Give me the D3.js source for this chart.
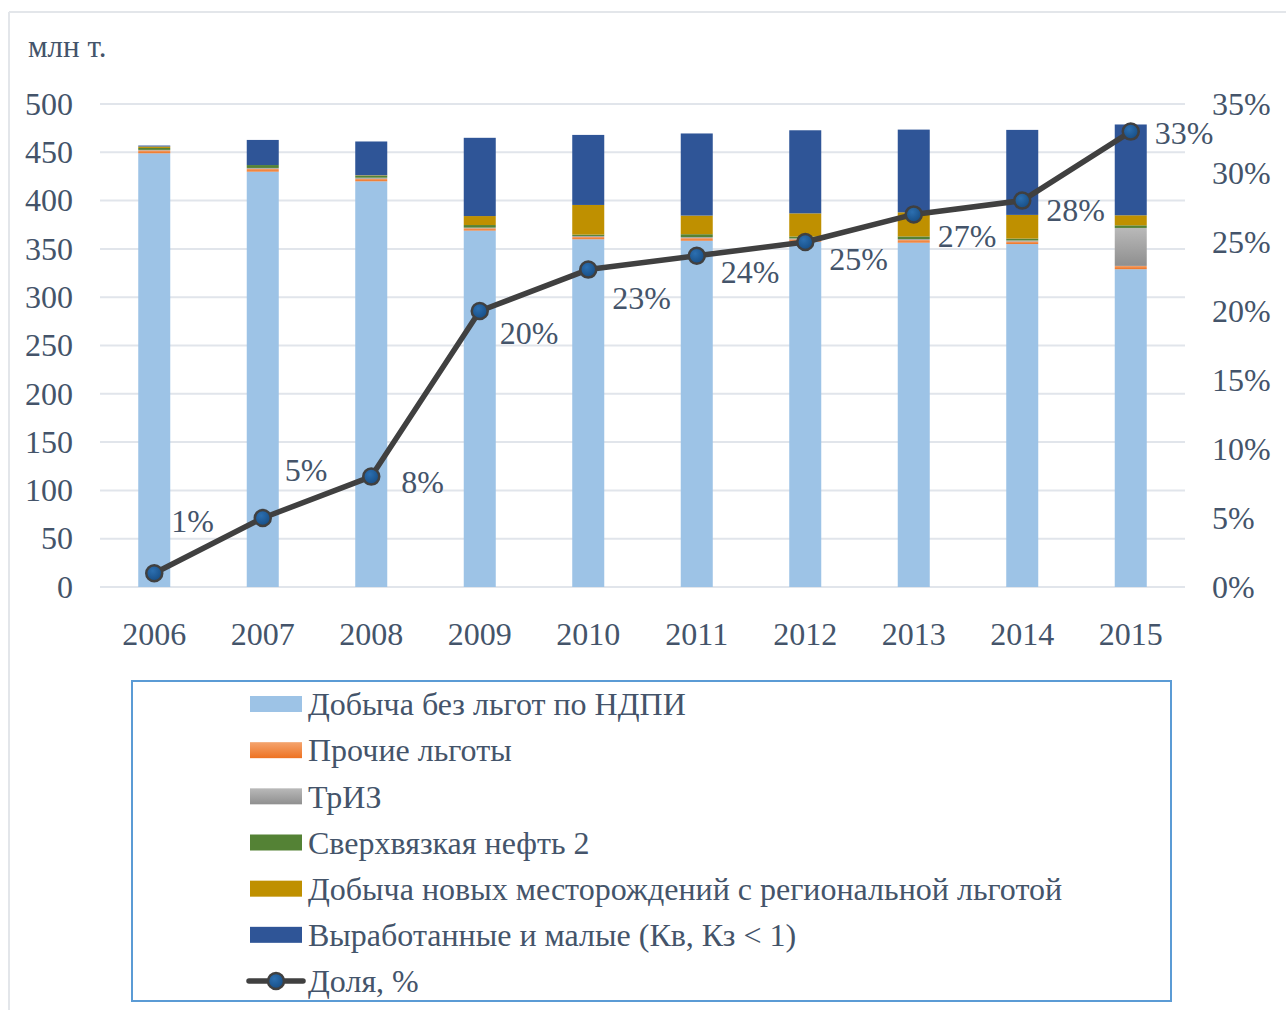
<!DOCTYPE html>
<html>
<head>
<meta charset="utf-8">
<script src="https://cdn.jsdelivr.net/npm/d3@7"></script>
<style>
  body { margin: 0; background: #fff; }
  svg text { font-family: "Liberation Serif", "DejaVu Serif", serif !important; fill: #44546A; }
</style>
</head>
<body>
<div id="chart"></div>
<script>
var years = ["2006", "2007", "2008", "2009", "2010", "2011", "2012", "2013", "2014", "2015"];
var baseOutput = [449, 430, 420, 369, 360, 358.5, 357.5, 356.5, 355, 329];
var otherRelief = [3, 3, 2.7, 2.4, 2.4, 2.7, 2.5, 2.7, 2.7, 3.4];
var triz = [0.5, 0.8, 1, 0.6, 1, 1, 0.8, 1, 1, 39.3];
var heavyOil = [2, 3, 2, 2.7, 1.4, 3, 2, 2.7, 2, 2.7];
var newFields = [1.5, 0, 0.5, 9.3, 30.7, 19.3, 24, 25, 24.5, 10.4];
var depleted = [1, 26, 35, 81, 72.5, 85, 86, 85.6, 88, 94];
var share = [1, 5, 8, 20, 23, 24, 25, 27, 28, 33];

var leftTicks = [0, 50, 100, 150, 200, 250, 300, 350, 400, 450, 500];
var rightTicks = [0, 5, 10, 15, 20, 25, 30, 35];

var seriesNames = [
  "Добыча без льгот по НДПИ",
  "Прочие льготы",
  "ТрИЗ",
  "Сверхвязкая нефть 2",
  "Добыча новых месторождений с региональной льготой",
  "Выработанные и малые (Кв, Кз < 1)"
];
var lineName = "Доля, %";

// label nudges for the share labels (first two sit above the line)
var labelDx = [17, 22, 30, 20, 24, 24, 24, 24, 24, 24];
var labelDy = [-52, -48, 5, 22, 28, 16, 17, 21, 9, 1];

var serif = "'Liberation Serif', 'DejaVu Serif', serif";
var width = 1286, height = 1010;
var svg = d3.select("#chart").append("svg")
  .attr("width", width)
  .attr("height", height)
  .attr("font-family", serif);

var defs = svg.append("defs");
function vGrad(id, top, bottom) {
  var g = defs.append("linearGradient").attr("id", id)
    .attr("x1", 0).attr("y1", 0).attr("x2", 0).attr("y2", 1);
  g.append("stop").attr("offset", "0%").attr("stop-color", top);
  g.append("stop").attr("offset", "100%").attr("stop-color", bottom);
}
vGrad("gOrange", "#F4A46E", "#EE7222");
vGrad("gGray", "#B9B9B9", "#8F8F8F");
var rg = defs.append("radialGradient").attr("id", "gDot")
  .attr("cx", "40%").attr("cy", "35%").attr("r", "65%");
rg.append("stop").attr("offset", "0%").attr("stop-color", "#2C6FB0");
rg.append("stop").attr("offset", "100%").attr("stop-color", "#174E86");

var fills = ["#9DC3E6", "url(#gOrange)", "url(#gGray)", "#548235", "#BF9000", "#2F5597"];

// outer frame (partly visible)
svg.append("line").attr("x1", 9).attr("y1", 12).attr("x2", width).attr("y2", 12)
  .attr("stroke", "#E3E6EA").attr("stroke-width", 2);
svg.append("line").attr("x1", 9).attr("y1", 12).attr("x2", 9).attr("y2", height)
  .attr("stroke", "#E3E6EA").attr("stroke-width", 2);

var x = d3.scaleBand().domain(years).range([100, 1185]).paddingInner(0.705).paddingOuter(0.3525);
var y = d3.scaleLinear().domain([0, 500]).range([587, 104]);
var y2 = d3.scaleLinear().domain([0, 35]).range([587, 104]);

// gridlines
svg.append("g").selectAll("line").data(leftTicks).join("line")
  .attr("x1", 100).attr("x2", 1185)
  .attr("y1", function (d) { return y(d); })
  .attr("y2", function (d) { return y(d); })
  .attr("stroke", "#E1E5EB").attr("stroke-width", 2);

function styleAxis(g) {
  g.attr("font-family", serif).attr("font-size", 32);
  g.select(".domain").remove();
  g.selectAll("text").attr("fill", "#44546A").attr("font-family", serif);
}

// left axis labels
var leftAxis = d3.axisLeft(y).tickValues(leftTicks).tickSize(0).tickPadding(0);
svg.append("g").attr("transform", "translate(73,0)").call(leftAxis).call(styleAxis);

// right axis labels
var rightAxis = d3.axisRight(y2).tickValues(rightTicks).tickSize(0).tickPadding(0)
  .tickFormat(function (d) { return d + "%"; });
svg.append("g").attr("transform", "translate(1212,0)").call(rightAxis).call(styleAxis);

// bottom axis labels
var bottomAxis = d3.axisBottom(x).tickSize(0).tickPadding(0);
svg.append("g").attr("transform", "translate(0,622)").call(bottomAxis).call(styleAxis);

svg.append("text").attr("x", 28).attr("y", 57).attr("font-size", 31).text("млн т.");

// stacked bars
var rows = years.map(function (yr, i) {
  return { year: yr, s0: baseOutput[i], s1: otherRelief[i], s2: triz[i], s3: heavyOil[i], s4: newFields[i], s5: depleted[i] };
});
var stack = d3.stack().keys(["s0", "s1", "s2", "s3", "s4", "s5"]);
var layers = stack(rows);

svg.append("g").selectAll("g").data(layers).join("g")
  .attr("fill", function (d, i) { return fills[i]; })
  .selectAll("rect").data(function (d) { return d; }).join("rect")
  .attr("x", function (d) { return x(d.data.year); })
  .attr("width", x.bandwidth())
  .attr("y", function (d) { return y(d[1]); })
  .attr("height", function (d) { return y(d[0]) - y(d[1]); });

// share line
var cx = function (i) { return x(years[i]) + x.bandwidth() / 2; };
var line = d3.line()
  .x(function (d, i) { return cx(i); })
  .y(function (d) { return y2(d); });

svg.append("path").datum(share)
  .attr("d", line)
  .attr("fill", "none")
  .attr("stroke", "#404040")
  .attr("stroke-width", 5.5)
  .attr("stroke-linejoin", "round");

svg.append("g").selectAll("circle").data(share).join("circle")
  .attr("cx", function (d, i) { return cx(i); })
  .attr("cy", function (d) { return y2(d); })
  .attr("r", 8)
  .attr("fill", "url(#gDot)")
  .attr("stroke", "#404040")
  .attr("stroke-width", 2.5);

svg.append("g").selectAll("text").data(share).join("text")
  .attr("x", function (d, i) { return cx(i) + labelDx[i]; })
  .attr("y", function (d, i) { return y2(d) + labelDy[i]; })
  .attr("dy", "0.35em")
  .attr("font-size", 32)
  .text(function (d) { return d + "%"; });

// legend
var legend = svg.append("g");
legend.append("rect")
  .attr("x", 132).attr("y", 681).attr("width", 1039).attr("height", 320)
  .attr("fill", "none").attr("stroke", "#5B9BD5").attr("stroke-width", 2);

var legendY = d3.scalePoint().domain(d3.range(7)).range([704, 981]);

var items = legend.selectAll("g.item").data(seriesNames).join("g")
  .attr("class", "item")
  .attr("transform", function (d, i) { return "translate(0," + legendY(i) + ")"; });
items.append("rect")
  .attr("x", 250).attr("y", -8).attr("width", 52).attr("height", 16)
  .attr("fill", function (d, i) { return fills[i]; });
items.append("text")
  .attr("x", 308).attr("dy", "0.35em").attr("font-size", 32)
  .text(function (d) { return d; });

var li = legend.append("g").attr("transform", "translate(0," + legendY(6) + ")");
li.append("line").attr("x1", 249).attr("x2", 303)
  .attr("stroke", "#404040").attr("stroke-width", 5.5).attr("stroke-linecap", "round");
li.append("circle").attr("cx", 276).attr("r", 8)
  .attr("fill", "url(#gDot)").attr("stroke", "#404040").attr("stroke-width", 2.5);
li.append("text").attr("x", 308).attr("dy", "0.35em").attr("font-size", 32).text(lineName);
</script>
</body>
</html>
